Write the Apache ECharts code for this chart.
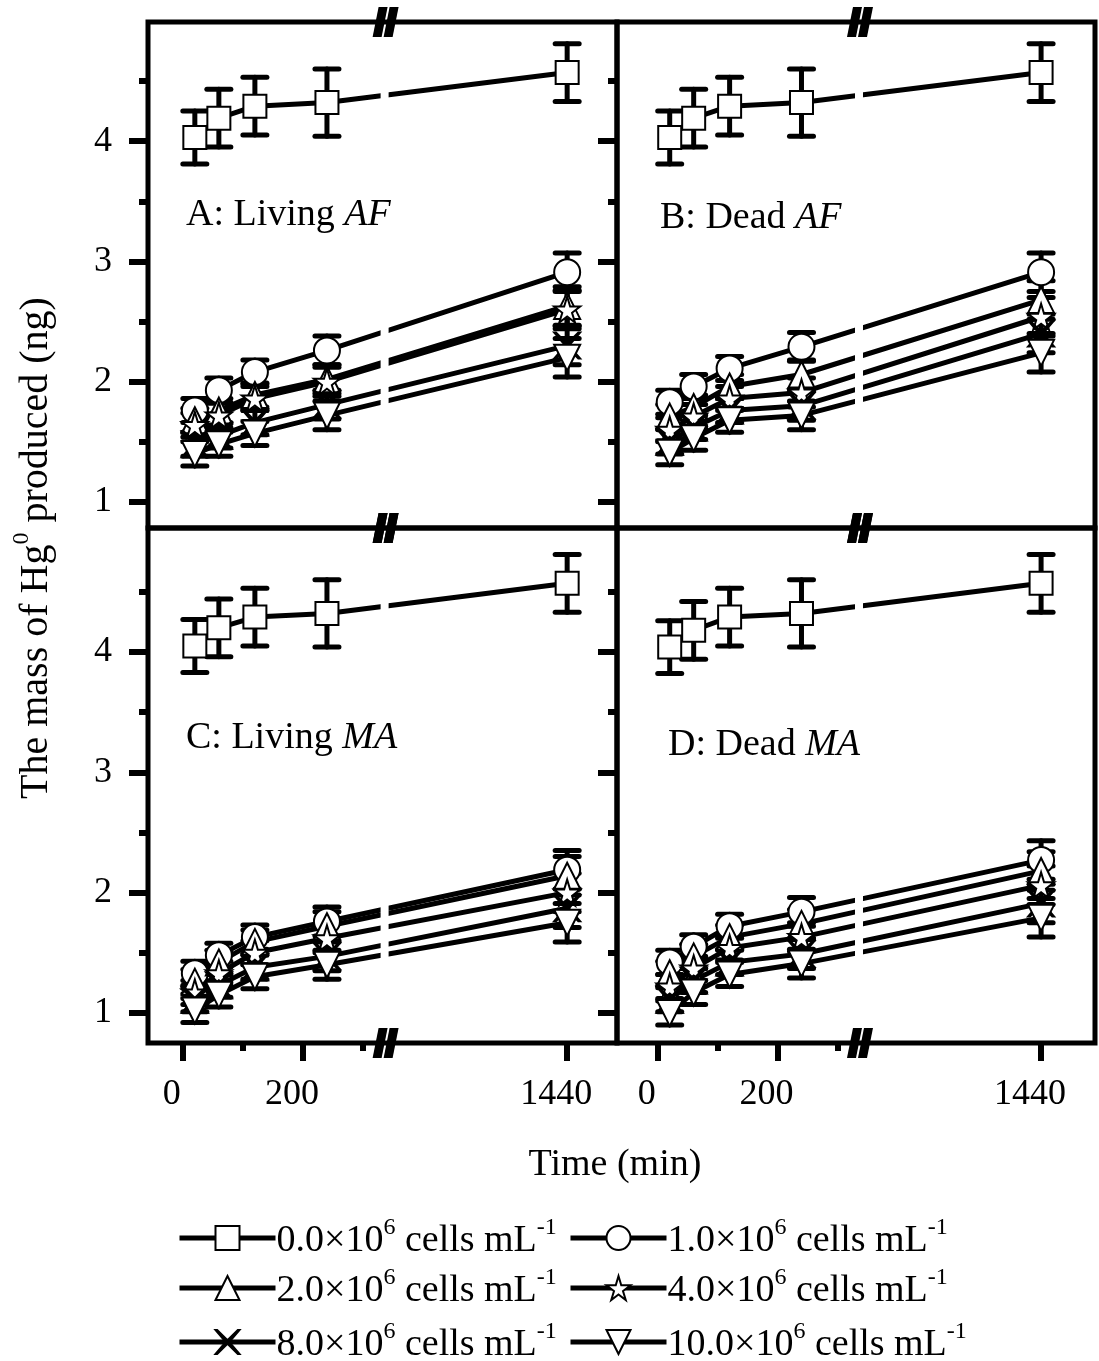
<!DOCTYPE html>
<html><head><meta charset="utf-8">
<script src="https://cdn.jsdelivr.net/npm/echarts@6/dist/echarts.min.js"></script>
<style>html,body{margin:0;padding:0;background:#fff}#c{width:1099px;height:1361px}</style>
</head><body><div id="c"></div>
<script>
// ---------- data ----------
const times = [20, 60, 120, 240, 1440];
const seriesNames = ['0.0', '1.0', '2.0', '4.0', '8.0', '10.0'];

const A_c0 = [4.03, 4.19, 4.29, 4.32, 4.57];
const A_c1 = [1.76, 1.93, 2.08, 2.26, 2.91];
const A_c2 = [1.68, 1.76, 1.89, 2.02, 2.63];
const A_c4 = [1.64, 1.72, 1.86, 2.00, 2.60];
const A_c8 = [1.48, 1.55, 1.66, 1.81, 2.30];
const A_c10 = [1.40, 1.48, 1.57, 1.72, 2.20];

const B_c0 = [4.03, 4.19, 4.29, 4.32, 4.57];
const B_c1 = [1.83, 1.96, 2.11, 2.29, 2.91];
const B_c2 = [1.71, 1.79, 1.96, 2.06, 2.68];
const B_c4 = [1.60, 1.71, 1.86, 1.91, 2.54];
const B_c8 = [1.50, 1.62, 1.76, 1.80, 2.40];
const B_c10 = [1.41, 1.53, 1.68, 1.72, 2.24];

const C_c0 = [4.05, 4.20, 4.29, 4.32, 4.57];
const C_c1 = [1.33, 1.48, 1.63, 1.76, 2.19];
const C_c2 = [1.26, 1.42, 1.59, 1.72, 2.14];
const C_c4 = [1.17, 1.33, 1.50, 1.62, 2.00];
const C_c8 = [1.11, 1.23, 1.38, 1.47, 1.87];
const C_c10 = [1.02, 1.15, 1.30, 1.40, 1.75];

const D_c0 = [4.04, 4.18, 4.29, 4.32, 4.57];
const D_c1 = [1.42, 1.55, 1.72, 1.84, 2.27];
const D_c2 = [1.33, 1.47, 1.63, 1.74, 2.18];
const D_c4 = [1.22, 1.37, 1.54, 1.63, 2.06];
const D_c8 = [1.11, 1.27, 1.42, 1.49, 1.91];
const D_c10 = [1.00, 1.17, 1.32, 1.41, 1.79];

const errSquare = [0.22, 0.24, 0.24, 0.28, 0.24];
const errCells = [0.10, 0.10, 0.10, 0.12, 0.16];

const yTickLabels = [1, 2, 3, 4];
const yMinorTicks = [1.5, 2.5, 3.5, 4.5];
const xTickLabels = [0, 200, 1440];
const xMinorTicks = [100, 300];
const xBreak = {start: 336, end: 1136};

const panelTitles = [
  ['A: Living ', 'AF'], ['B: Dead ', 'AF'], ['C: Living ', 'MA'], ['D: Dead ', 'MA']
];

// ---------- layout / style ----------
const FONT = "'Liberation Serif','Times New Roman',serif";
const STAR = 'path://M50,0 L61,35 L98,35 L68,57 L79,91 L50,70 L21,91 L32,57 L2,35 L39,35 Z';
const CROSS = 'path://M0,0 L7,0 L50,43 L93,0 L100,0 L57,50 L100,100 L93,100 L50,57 L7,100 L0,100 L43,50 Z';
const symbols = [
  {symbol: 'rect', size: 23, rotate: 0, fill: '#fff'},
  {symbol: 'circle', size: 26, rotate: 0, fill: '#fff'},
  {symbol: 'triangle', size: 26, rotate: 0, fill: '#fff'},
  {symbol: STAR, size: 26, rotate: 0, fill: '#fff'},
  {symbol: CROSS, size: 26, rotate: 0, fill: '#000'},
  {symbol: 'triangle', size: 26, rotate: 180, fill: '#fff'}
];

const panels = [
  {data: [A_c0, A_c1, A_c2, A_c4, A_c8, A_c10], grid: {left: 148, top: 22, width: 469, height: 506},
   xmin: -58, xmax: 1523, ymin: 0.784, ymax: 4.99, ylab: true, xlab: false, title: [186, 215]},
  {data: [B_c0, B_c1, B_c2, B_c4, B_c8, B_c10], grid: {left: 617, top: 22, width: 478, height: 506},
   xmin: -68, xmax: 1530, ymin: 0.784, ymax: 4.99, ylab: false, xlab: false, title: [660, 218]},
  {data: [C_c0, C_c1, C_c2, C_c4, C_c8, C_c10], grid: {left: 148, top: 528, width: 469, height: 515},
   xmin: -58, xmax: 1523, ymin: 0.75, ymax: 5.03, ylab: true, xlab: true, title: [186, 738]},
  {data: [D_c0, D_c1, D_c2, D_c4, D_c8, D_c10], grid: {left: 617, top: 528, width: 478, height: 515},
   xmin: -68, xmax: 1530, ymin: 0.75, ymax: 5.03, ylab: false, xlab: true, title: [668, 745]}
];

function renderErr(params, api) {
  const x = api.value(0), y = api.value(1), e = api.value(2);
  const t = api.coord([x, y + e]), b = api.coord([x, y - e]);
  const st = {stroke: '#000', lineWidth: 5, lineCap: 'round'};
  return {type: 'group', children: [
    {type: 'line', shape: {x1: t[0], y1: t[1], x2: b[0], y2: b[1]}, style: st},
    {type: 'line', shape: {x1: t[0] - 12, y1: t[1], x2: t[0] + 12, y2: t[1]}, style: st},
    {type: 'line', shape: {x1: b[0] - 12, y1: b[1], x2: b[0] + 12, y2: b[1]}, style: st}
  ]};
}

const grid = [], xAxis = [], yAxis = [], series = [];
panels.forEach((p, pi) => {
  grid.push(Object.assign({show: true, borderColor: '#000', borderWidth: 5, backgroundColor: 'transparent'}, p.grid));
  const xBase = {gridIndex: pi, type: 'value', position: 'bottom', min: p.xmin, max: p.xmax,
    breaks: [{start: xBreak.start, end: xBreak.end, gap: 0}], breakArea: {show: false},
    axisLine: {show: false, onZero: false}, splitLine: {show: false}};
  xAxis.push(Object.assign({}, xBase, {
    axisTick: {show: p.xlab, length: 18, lineStyle: {color: '#000', width: 6}, customValues: xTickLabels},
    axisLabel: {show: p.xlab, customValues: xTickLabels, formatter: v => String(v),
      fontSize: 36, fontFamily: FONT, color: '#000', margin: 34, padding: [0, 22, 0, 0]}
  }));
  xAxis.push(Object.assign({}, xBase, {
    axisTick: {show: p.xlab, length: 8, lineStyle: {color: '#000', width: 6}, customValues: xMinorTicks},
    axisLabel: {show: false}
  }));
  const yBase = {gridIndex: pi, type: 'value', position: 'left', min: p.ymin, max: p.ymax,
    axisLine: {show: false, onZero: false}, splitLine: {show: false}};
  yAxis.push(Object.assign({}, yBase, {
    axisTick: {show: true, length: 19, lineStyle: {color: '#000', width: 6}, customValues: yTickLabels},
    axisLabel: {show: p.ylab, customValues: yTickLabels, formatter: v => String(v),
      fontSize: 36, fontFamily: FONT, color: '#000', margin: 36}
  }));
  yAxis.push(Object.assign({}, yBase, {
    axisTick: {show: true, length: 9, lineStyle: {color: '#000', width: 6}, customValues: yMinorTicks},
    axisLabel: {show: false}
  }));
  p.data.forEach((vals, si) => {
    const err = si === 0 ? errSquare : errCells;
    series.push({
      type: 'custom', xAxisIndex: pi * 2, yAxisIndex: pi * 2, z: 1, silent: true,
      renderItem: renderErr,
      data: times.map((t, i) => [t, vals[i], err[i]])
    });
  });
  p.data.forEach((vals, si) => {
    const s = symbols[si];
    series.push({
      type: 'line', name: seriesNames[si], xAxisIndex: pi * 2, yAxisIndex: pi * 2, z: 2,
      symbol: s.symbol, symbolSize: s.size, symbolRotate: s.rotate, showAllSymbol: true,
      lineStyle: {color: '#000', width: 5},
      itemStyle: {color: s.fill, borderColor: '#000', borderWidth: 2},
      emphasis: {disabled: true}, silent: true,
      data: times.map((t, i) => [t, vals[i]])
    });
  });
});

const legendPos = [[172, 1211], [563, 1211], [172, 1261], [563, 1261], [172, 1315], [563, 1315]];
const legend = seriesNames.map((n, i) => ({
  data: [n], left: legendPos[i][0], top: legendPos[i][1], orient: 'horizontal',
  itemWidth: 96, itemHeight: 30, itemGap: 0, selectedMode: false,
  lineStyle: {color: '#000', width: 5},
  itemStyle: {borderColor: '#000', borderWidth: 2},
  formatter: name => '{a|' + name + '×10}{s|6}{a| cells mL}{s|-1}',
  textStyle: {color: '#000', fontFamily: FONT, padding: [0, 0, 0, -4], rich: {
    a: {fontSize: 38, fontFamily: FONT, color: '#000', lineHeight: 44, verticalAlign: 'bottom'},
    s: {fontSize: 24, fontFamily: FONT, color: '#000', lineHeight: 26, verticalAlign: 'top'}
  }}
}));

const chart = echarts.init(document.getElementById('c'), null, {renderer: 'canvas'});
chart.setOption({animation: false, backgroundColor: '#fff', grid, xAxis, yAxis, series, legend});

// ---------- decorations: break gaps, break marks, titles ----------
const els = [];
panels.forEach((p, pi) => {
  const bx = chart.convertToPixel({xAxisIndex: pi * 2}, xBreak.start);
  const g = p.grid;
  els.push({type: 'rect', z: 50, shape: {x: bx - 4, y: g.top + 4, width: 8, height: g.height - 8},
    style: {fill: '#fff'}});
  const ys = [g.top, g.top + g.height];
  ys.forEach(yy => {
    els.push({type: 'group', x: bx + 1, y: yy, z: 60, children: [
      {type: 'polygon', z: 60, shape: {points: [[-13, 15], [-4, 15], [2, -15], [-7, -15]]}, style: {fill: '#000'}},
      {type: 'polygon', z: 60, shape: {points: [[-2, 15], [7, 15], [13, -15], [4, -15]]}, style: {fill: '#000'}}
    ]});
  });
  els.push({type: 'text', z: 60, x: p.title[0], y: p.title[1], style: {
    text: '{a|' + panelTitles[pi][0] + '}{i|' + panelTitles[pi][1] + '}',
    align: 'left', verticalAlign: 'middle',
    rich: {a: {fontSize: 38, fontFamily: FONT, fill: '#000'}, i: {fontSize: 38, fontFamily: FONT, fontStyle: 'italic', fill: '#000'}}
  }});
});
els.push({type: 'text', z: 60, x: 33, y: 548, rotation: Math.PI / 2, style: {
  text: '{a|The mass of Hg}{s|0}{a| produced (ng)}', align: 'center', verticalAlign: 'middle',
  rich: {a: {fontSize: 40, fontFamily: FONT, fill: '#000', lineHeight: 46, verticalAlign: 'bottom'},
         s: {fontSize: 24, fontFamily: FONT, fill: '#000', lineHeight: 26, verticalAlign: 'top'}}
}});
els.push({type: 'text', z: 60, x: 615, y: 1165, style: {
  text: 'Time (min)', align: 'center', verticalAlign: 'middle', fontSize: 38, fontFamily: FONT, fill: '#000'
}});
chart.setOption({graphic: {elements: els}});
</script>
</body></html>
